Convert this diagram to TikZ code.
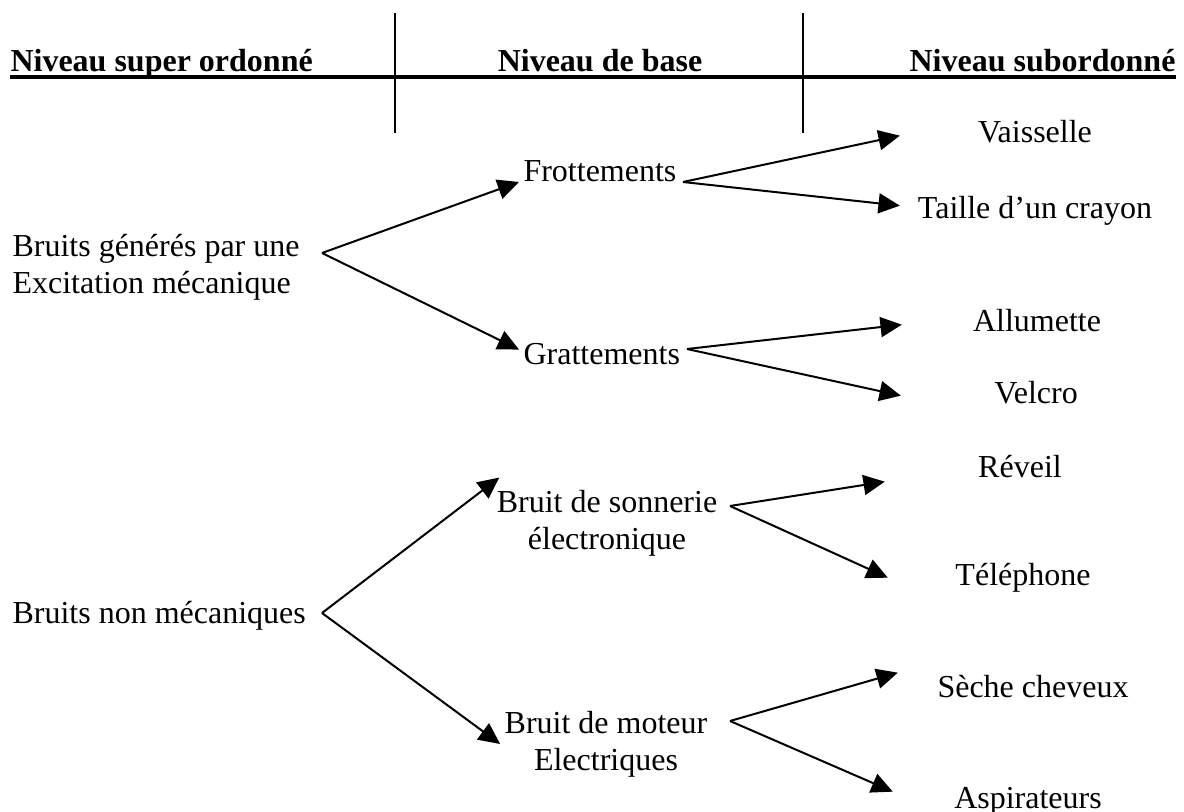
\documentclass[tikz,border=0pt]{standalone}
\usepackage{fontspec}
\setmainfont{Liberation Serif}
\usepackage{tikz}
\usetikzlibrary{arrows.meta, calc}

\begin{document}
\begin{tikzpicture}[
  x=0.375pt, y=-0.375pt,
  every node/.style={font=\fontsize{12}{13.8}\selectfont, inner sep=1.5pt},
  heading/.style={font=\fontsize{12}{13.8}\selectfont\bfseries, inner sep=0pt},
  root/.style={align=left, anchor=west},
  branch/.style={align=center},
  leaf/.style={minimum width=101pt, inner sep=0pt, text height=8pt, text depth=2.5pt, anchor=base},
  rule/.style={line width=0.6pt},
  underline/.style={line width=1.2pt},
  arrow/.style={-{Triangle[length=8pt, width=7.5pt]}, line width=0.75pt}
]
\useasboundingbox (0,0) rectangle (1184,812);

% Headings
\node[heading, anchor=base west] (sup) at (10,72) {Niveau super ordonné};
\node[heading, anchor=base] (bas) at (600,72) {Niveau de base};
\node[heading, anchor=base east] (sub) at (1176,72) {Niveau subordonné};
\draw[underline] ($(sup.base west)+(0,5)$) -- ($(sub.base east)+(0,5)$);
\draw[rule] (395,13) -- (395,133);
\draw[rule] (803,13) -- (803,133);

% Super ordonne
\node[root] (meca) at (8,267) {Bruits générés par une\\Excitation mécanique};
\node[anchor=base west] (nonmeca) at (8,623) {Bruits non mécaniques};

% Base
\node[anchor=base west] (frot) at (519,182) {Frottements};
\node[anchor=base west] (grat) at (519,365) {Grattements};
\node[branch] (sonn) at (607,523) {Bruit de sonnerie\\électronique};
\node[branch] (mot) at (606,744) {Bruit de moteur\\Electriques};

% Subordonne
\node[leaf] (vais) at (1035,143) {Vaisselle};
\node[leaf] (tail) at (1035,219) {Taille d’un crayon};
\node[leaf] (allu) at (1037,332) {Allumette};
\node[leaf] (velc) at (1036,403) {Velcro};
\node[leaf] (reve) at (1020,477) {Réveil};
\node[leaf] (tele) at (1023,585) {Téléphone};
\node[leaf] (seche) at (1033,697) {Sèche cheveux};
\node[leaf] (aspi) at (1028,808) {Aspirateurs};

% Forks
\coordinate (f1) at (322,253);
\coordinate (f2) at (683,182);
\coordinate (f3) at (687,349);
\coordinate (f4) at (322,613);
\coordinate (f5) at (730,506);
\coordinate (f6) at (730,721);

% Arrows
\draw[arrow] (f1) -- (frot.base west);
\draw[arrow] (f1) -- ($(grat.west)+(0,-5)$);
\draw[arrow] (f2) -- (vais.west);
\draw[arrow] (f2) -- ($(tail.west)+(0,-6)$);
\draw[arrow] (f3) -- (allu.west);
\draw[arrow] (f3) -- (velc.west);
\draw[arrow] (f4) -- ($(sonn.north west)+(7,-8)$);
\draw[arrow] (f4) -- (mot.west);
\draw[arrow] (f5) -- ($(reve.west)+(0,12)$);
\draw[arrow] (f5) -- (tele.west);
\draw[arrow] (f6) -- ($(seche.west)+(0,-17)$);
\draw[arrow] (f6) -- ($(aspi.west)+(0,-9)$);

\end{tikzpicture}
\end{document}
